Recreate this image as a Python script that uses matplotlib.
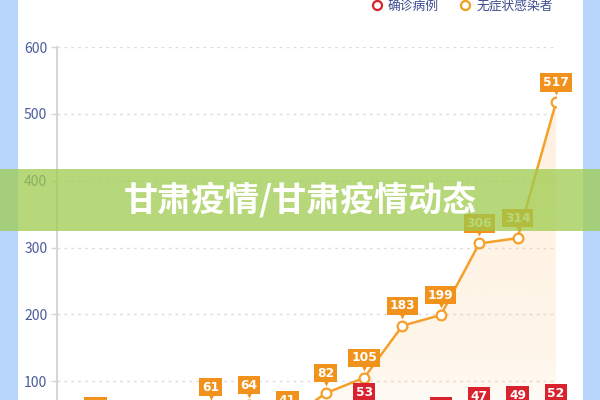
import numpy as np
import matplotlib
matplotlib.use("Agg")
import matplotlib.pyplot as plt
from matplotlib.transforms import offset_copy
from matplotlib.lines import Line2D
from matplotlib.patches import Rectangle
from matplotlib.colors import LinearSegmentedColormap

plt.rcParams['font.family'] = ['Noto Sans CJK SC', 'DejaVu Sans']

# ---- data (values below the visible crop are estimates) ----
series_names = ['确诊病例', '无症状感染者']
confirmed = [3, 5, 4, 8, 10, 12, 9, 18, 53, 22, 33, 47, 49, 52]
asymptomatic = [10, 33, 18, 24, 61, 64, 41, 82, 105, 183, 199, 306, 314, 517]
yticks = [100, 200, 300, 400, 500, 600]
title_text = '甘肃疫情/甘肃疫情动态'

red = '#d8232e'
orange = '#f5a02a'
orange_box = '#f0921c'
tick_col = '#4b5b9c'

W, H = 600, 400
fig = plt.figure(figsize=(6, 4), dpi=100)
fig.patch.set_facecolor('#b8d5fb')
fig.patches.append(Rectangle((18 / W, 0), (583 - 18) / W, 1, transform=fig.transFigure,
                             facecolor='white', edgecolor='none', zorder=-5))

# axes: value 600 at y=47px, value 0 at y=448px (below crop)
ax_left, ax_right = 57, 556
top_px, zero_px = 47, 448
ax = fig.add_axes([ax_left / W, 1 - zero_px / H, (ax_right - ax_left) / W, (zero_px - top_px) / H])
ax.set_zorder(1)
ax.set_facecolor('none')
x = np.arange(len(asymptomatic))
ax.set_xlim(0, len(x) - 1)
ax.set_ylim(0, 600)

for s in ['top', 'right', 'bottom']:
    ax.spines[s].set_visible(False)
ax.spines['left'].set_color('#d6d6d6')
ax.spines['left'].set_linewidth(1.5)
ax.set_yticks(yticks)
ax.tick_params(axis='y', length=4, width=1, color='#d6d6d6', labelcolor=tick_col,
               labelsize=10, pad=3)
ax.set_xticks([])
for yt in yticks:
    ax.axhline(yt, color='#dcdcdc', lw=1, ls=(0, (2, 3)), zorder=1)

# gradient area under asymptomatic line
grad = np.linspace(0, 1, 256).reshape(-1, 1)
pc = (0.99, 0.82, 0.60)
cmap = LinearSegmentedColormap.from_list('g', [(0.0, (*pc, 0.0)), (0.12, (*pc, 0.10)),
                                               (0.25, (*pc, 0.22)), (1.0, (*pc, 0.32))])
im = ax.imshow(grad, extent=[0, len(x) - 1, 0, 600], origin='lower', aspect='auto',
               cmap=cmap, zorder=2)
poly = ax.fill_between(x, asymptomatic, 0, facecolor='none', edgecolor='none')
im.set_clip_path(poly.get_paths()[0], transform=ax.transData)

ax.plot(x, confirmed, color=red, lw=1.8, marker='o', ms=7, mfc='white', mec=red, mew=1.6, zorder=4)
ax.plot(x, asymptomatic, color=orange, lw=1.8, marker='o', ms=7, mfc='white', mec=orange, mew=1.6, zorder=4)

# visibility limit of the crop in data units (labels sit ~20px above their point)
px_per_unit = (zero_px - top_px) / 600.0
min_visible = (zero_px - H - 20 - 8) / px_per_unit


def label(xv, yv, txt, color):
    if yv < min_visible:
        return
    tr = offset_copy(ax.transData, fig=fig, x=0, y=20, units='dots')
    ax.text(xv, yv, str(txt), transform=tr, ha='center', va='center', color='white',
            fontsize=8.8, fontweight='bold', family=['Liberation Sans Narrow', 'DejaVu Sans'],
            bbox=dict(boxstyle='square,pad=0.22', fc=color, ec='none'), zorder=6, clip_on=False)
    tr2 = offset_copy(ax.transData, fig=fig, x=0, y=10, units='dots')
    ax.plot([xv], [yv], marker='v', ms=4, color=color, mec='none', transform=tr2, zorder=6, clip_on=False)


for xi, v in zip(x, confirmed):
    label(xi, v, v, red)
for xi, v in zip(x, asymptomatic):
    label(xi, v, v, orange_box)

# legend
handles = [Line2D([], [], ls='none', marker='o', ms=6.5, mfc='white', mec=red, mew=1.6),
           Line2D([], [], ls='none', marker='o', ms=6.5, mfc='white', mec='#f0a020', mew=1.6)]
leg = fig.legend(handles, series_names, loc='center', bbox_to_anchor=(462 / W, 1 - 6 / H),
                 ncol=2, frameon=False, handlelength=0.8, handletextpad=0.45, columnspacing=1.7,
                 prop={'size': 9.2})
for t in leg.get_texts():
    t.set_color('#3c4d8e')

# green banner
fig.patches.append(Rectangle((0, 1 - 231 / H), 1, 62 / H, transform=fig.transFigure,
                             facecolor=(0.62, 0.80, 0.30), alpha=0.75, edgecolor='none', zorder=10))
fig.text(0.5, 1 - 200 / H, title_text, ha='center', va='center', color='white',
         fontsize=24.5, fontweight='heavy', zorder=11)

fig.savefig('out.png', dpi=100)
